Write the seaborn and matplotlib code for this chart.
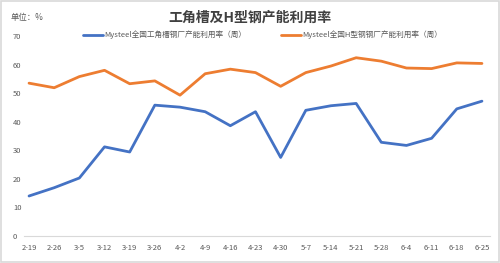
import matplotlib
matplotlib.use("Agg")
import matplotlib.pyplot as plt
import seaborn as sns
import pandas as pd
from matplotlib.lines import Line2D
from matplotlib.patches import Rectangle

dates = ["2-19", "2-26", "3-5", "3-12", "3-19", "3-26", "4-2", "4-9", "4-16", "4-23",
         "4-30", "5-7", "5-14", "5-21", "5-28", "6-4", "6-11", "6-18", "6-25"]
angle_channel = [14.0, 16.9, 20.3, 31.2, 29.4, 45.8, 45.1, 43.5, 38.6, 43.5,
                 27.5, 44.0, 45.6, 46.4, 32.8, 31.7, 34.2, 44.5, 47.2]
h_beam = [53.5, 51.9, 55.8, 58.0, 53.3, 54.3, 49.3, 56.8, 58.4, 57.2,
          52.4, 57.2, 59.5, 62.4, 61.2, 58.8, 58.6, 60.6, 60.4]
series_names = ["Mysteel全国工角槽钢厂产能利用率（周）", "Mysteel全国H型钢钢厂产能利用率（周）"]
colors = ["#4472C4", "#ED7D31"]
title = "工角槽及H型钢产能利用率"
unit = "单位：%"

sns.set_theme(style="white")
plt.rcParams['font.family'] = ['Noto Sans CJK SC', 'DejaVu Sans']

df = pd.DataFrame({
    "idx": list(range(len(dates))) * 2,
    "value": angle_channel + h_beam,
    "series": [series_names[0]] * len(dates) + [series_names[1]] * len(dates),
})

fig = plt.figure(figsize=(5.0, 2.63), dpi=100)
ax = fig.add_axes([0.048, 0.1027, 0.932, 0.7603])
sns.lineplot(data=df, x="idx", y="value", hue="series", palette=colors,
             linewidth=2.0, ax=ax, legend=False)

ax.set_xlim(-0.2, 18.32)
ax.set_ylim(0, 70)
ax.set_yticks(range(0, 71, 10))
ax.set_xticks(range(len(dates)))
ax.set_xticklabels(dates)
ax.tick_params(axis="both", labelsize=5.5, colors="#595959", length=0, pad=3)
ax.tick_params(axis="x", pad=6)
for lab in ax.get_yticklabels():
    lab.set_horizontalalignment("left")
ax.tick_params(axis="y", pad=8)
ax.set_xlabel("")
ax.set_ylabel("")
for s in ["top", "right", "left"]:
    ax.spines[s].set_visible(False)
ax.spines["bottom"].set_color("#D9D9D9")
ax.spines["bottom"].set_linewidth(0.8)

handles = [Line2D([0], [0], color=c, lw=2) for c in colors]
fig.legend(handles, series_names, loc="center", bbox_to_anchor=(0.525, 0.867), ncol=2,
           frameon=False, fontsize=5.5, handlelength=2.6, handletextpad=0.2,
           columnspacing=4.5, labelcolor="#595959")

fig.text(0.5, 0.932, title, ha="center", va="center", fontsize=10, fontweight="bold", color="#404040")
fig.text(0.022, 0.932, unit, ha="left", va="center", fontsize=6, color="#595959")

fig.patches.append(Rectangle((0.002, 0.004), 0.996, 0.992, transform=fig.transFigure,
                             fill=False, edgecolor="#D9D9D9", linewidth=1.2))

fig.savefig("out.png", dpi=100)
